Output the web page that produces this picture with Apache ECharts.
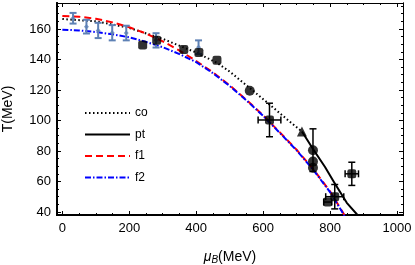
<!DOCTYPE html>
<html><head><meta charset="utf-8">
<script src="https://cdn.jsdelivr.net/npm/echarts@6/dist/echarts.min.js"></script>
<style>html,body{margin:0;padding:0;background:#fff}#c{width:415px;height:265px}</style>
</head><body><div id="c"></div>
<script>
// ---- data ----
const xTicks = [0, 200, 400, 600, 800, 1000];
const yTicks = [40, 60, 80, 100, 120, 140, 160];
const coCurve = [[0,166.5],[100,165],[200,160.7],[300,153.5],[400,144.5],[462,137.8],[500,132],[560,121.3],[620,110.3],[670,101],[716,92.7]];
const ptCurve = [[716,92.7],[750,81],[785,69.5],[812,59.5],[850,46],[886,37]];
const f1Curve = [[0,168.5],[50,168],[100,166.7],[150,164.3],[200,161.1],[250,157],[300,151.9],[350,145.8],[400,139],[450,131.5],[500,123],[550,113.5],[600,103.3],[650,92.2],[700,80.8],[750,68],[800,53.5],[850,35.5]];
const f2Curve = [[0,159.5],[50,159],[100,158],[150,156.5],[200,154.5],[250,151.5],[300,148],[350,143.5],[400,138.2],[450,131],[500,122.6],[550,113.2],[600,103],[650,91.8],[700,80.4],[750,67.6],[800,53],[850,35]];
// lattice points: [muB, T, errT]
const lattice = [[32,167,3.5],[72,161.5,4.5],[107,159,5],[149,157.5,5],[191,157.3,4.8],[280,152.5,4.7],[407,148,4.5]];
// black squares / circles / triangle: [muB, T]
const squares = [[240,149.5],[282,152.5],[363,146.5],[408,144.5],[462,139.5],[619,100.3],[793,46.5],[814,50],[865,65]];
const circles = [[560,119.5],[749,80.5],[749,73],[749,69]];
const triangles = [[716,92.7]];
// error bars on black points: [muB, T, errMu, errT]
const blackErr = [[619,100.3,34,11],[749,80.5,0,14],[793,46.5,12,0],[814,50,27,8],[865,65,20,7.6]];

const minorX = []; for (let v = 0; v <= 1000; v += 50) minorX.push(v);
const minorY = []; for (let v = 40; v <= 175; v += 5) minorY.push(v);

function errRender(color, cap, lw) {
  return function (params, api) {
    const x = api.value(0), y = api.value(1);
    const ex = api.value(2), ey = api.value(3);
    const st = { stroke: color, lineWidth: lw };
    const ch = [];
    if (ey > 0) {
      const a = api.coord([x, y - ey]), b = api.coord([x, y + ey]);
      ch.push({ type: 'line', shape: { x1: a[0], y1: a[1], x2: b[0], y2: b[1] }, style: st });
      ch.push({ type: 'line', shape: { x1: a[0] - cap, y1: a[1], x2: a[0] + cap, y2: a[1] }, style: st });
      ch.push({ type: 'line', shape: { x1: b[0] - cap, y1: b[1], x2: b[0] + cap, y2: b[1] }, style: st });
    }
    if (ex > 0) {
      const a = api.coord([x - ex, y]), b = api.coord([x + ex, y]);
      ch.push({ type: 'line', shape: { x1: a[0], y1: a[1], x2: b[0], y2: b[1] }, style: st });
      ch.push({ type: 'line', shape: { x1: a[0], y1: a[1] - cap, x2: a[0], y2: a[1] + cap }, style: st });
      ch.push({ type: 'line', shape: { x1: b[0], y1: b[1] - cap, x2: b[0], y2: b[1] + cap }, style: st });
    }
    return { type: 'group', children: ch };
  };
}

const X0 = -16, X1 = 1018, Y0 = 38, Y1 = 177;
const font = 'Liberation Sans, Arial, sans-serif';
function xAx(pos, ticks, len, showLabel, lineW) {
  return {
    type: 'value', min: X0, max: X1, position: pos,
    axisLine: { show: true, onZero: false, lineStyle: { color: '#000', width: lineW } },
    axisTick: { show: true, inside: true, length: len, customValues: ticks, lineStyle: { color: '#000', width: 1 } },
    axisLabel: { show: showLabel, customValues: xTicks, color: '#000', fontSize: 13, fontFamily: font, margin: 7, formatter: v => String(v) },
    splitLine: { show: false }
  };
}
function yAx(pos, ticks, len, showLabel, lineW) {
  return {
    type: 'value', min: Y0, max: Y1, position: pos,
    axisLine: { show: true, onZero: false, lineStyle: { color: '#000', width: lineW } },
    axisTick: { show: true, inside: true, length: len, customValues: ticks, lineStyle: { color: '#000', width: 1 } },
    axisLabel: { show: showLabel, customValues: yTicks, color: '#000', fontSize: 13, fontFamily: font, margin: 6, formatter: v => String(v) },
    splitLine: { show: false }
  };
}
const xAxes = [xAx('bottom', xTicks, 4, true, 2), xAx('bottom', minorX, 2, false, 2), xAx('top', xTicks, 4, false, 1), xAx('top', minorX, 2, false, 1)];
xAxes[0].name = '{m|μ}{b|B}{n|(MeV)}';
xAxes[0].nameLocation = 'middle';
xAxes[0].nameGap = 34;
xAxes[0].nameTextStyle = { color: '#000', fontFamily: font, rich: {
  m: { fontSize: 14, fontStyle: 'italic', fontFamily: font, color: '#000' },
  b: { fontSize: 10, fontStyle: 'italic', fontFamily: font, color: '#000', verticalAlign: 'bottom', padding: [6, 0, 0, 0] },
  n: { fontSize: 14, fontFamily: font, color: '#000' } } };
const yAxes = [yAx('left', yTicks, 4, true, 2), yAx('left', minorY, 2, false, 2), yAx('right', yTicks, 4, false, 1), yAx('right', minorY, 2, false, 1)];
yAxes[0].name = 'T(MeV)';
yAxes[0].nameLocation = 'middle';
yAxes[0].nameGap = 42;
yAxes[0].nameTextStyle = { color: '#000', fontSize: 14, fontFamily: font };

const lineS = (name, data, color, type, z) => ({
  name, type: 'line', data, symbol: 'none', smooth: false, z,
  lineStyle: { color, width: 2, type, join: 'round' }, itemStyle: { color }
});

const chart = echarts.init(document.getElementById('c'), null, { renderer: 'canvas' });
chart.setOption({
  animation: false,
  backgroundColor: '#fff',
  grid: { left: 57, right: 12, top: 3, bottom: 50, containLabel: false, outerBoundsMode: 'none' },
  xAxis: xAxes,
  yAxis: yAxes,
  legend: {
    data: ['co', 'pt', 'f1', 'f2'], orient: 'vertical', left: 79, top: 102,
    itemWidth: 45, itemHeight: 14, itemGap: 9.5,
    itemStyle: { opacity: 0 },
    textStyle: { color: '#000', fontSize: 12, fontFamily: font }
  },
  series: [
    lineS('co', coCurve, '#000', [1.5, 2.5], 2),
    lineS('pt', ptCurve, '#000', 'solid', 2),
    lineS('f1', f1Curve, '#ff0000', [7, 4], 3),
    lineS('f2', f2Curve, '#0000ff', [6, 2, 1.5, 2], 4),
    { type: 'custom', renderItem: errRender('#5E81B5', 3.5, 2), data: lattice.map(d => [d[0], d[1], 0, d[2]]), z: 5, silent: true },
    { type: 'scatter', data: lattice.map(d => [d[0], d[1]]), symbol: 'diamond', symbolSize: 5, itemStyle: { color: '#5E81B5' }, z: 6 },
    { type: 'custom', renderItem: errRender('#000', 3.5, 1.5), data: blackErr, z: 7, silent: true },
    { type: 'scatter', data: squares, symbol: 'roundRect', symbolSize: 9, itemStyle: { color: '#000' }, z: 8 },
    { type: 'scatter', data: circles, symbol: 'circle', symbolSize: 10, itemStyle: { color: '#000' }, z: 8 },
    { type: 'scatter', data: triangles, symbol: 'triangle', symbolSize: 10, itemStyle: { color: '#000' }, z: 8 }
  ]
});
</script></body></html>
